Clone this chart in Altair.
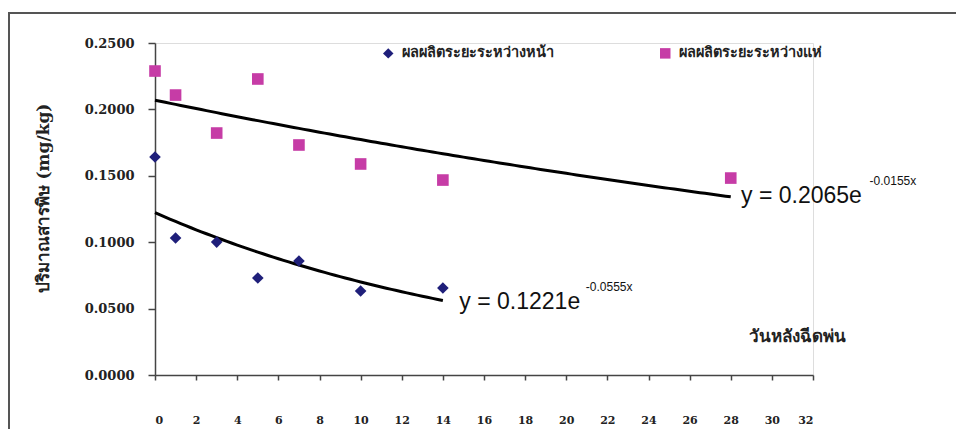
import altair as alt
import pandas as pd

series_names = ["ผลผลิตระยะระหว่างหน้า", "ผลผลิตระยะระหว่างแห่"]
series_colors = ["#1F1F7A", "#C63CA6"]
series_shapes = ["diamond", "square"]

blue_days = [0, 1, 3, 5, 7, 10, 14]
blue_vals = [0.1642, 0.1032, 0.1001, 0.0730, 0.0858, 0.0633, 0.0655]

pink_days = [0, 1, 3, 5, 7, 10, 14, 28]
pink_vals = [0.2289, 0.2108, 0.1822, 0.2229, 0.1732, 0.1589, 0.1468, 0.1483]

eq_main = ["y = 0.2065e", "y = 0.1221e"]
eq_sup = ["-0.0155x", "-0.0555x"]
eq_main_x = [28.5, 14.8]
eq_main_y = [0.1350, 0.0548]
eq_sup_x = [34.75, 20.95]
eq_sup_y = [0.1460, 0.0660]

x_ticks = list(range(0, 33, 2))
y_ticks = [0.0, 0.05, 0.10, 0.15, 0.20, 0.25]

rows = []
for d, v in zip(blue_days, blue_vals):
    rows.append({"day": d, "val": v, "series": series_names[0]})
for d, v in zip(pink_days, pink_vals):
    rows.append({"day": d, "val": v, "series": series_names[1]})
df = pd.DataFrame(rows)

ann = pd.DataFrame({
    "main": eq_main, "sup": eq_sup,
    "mx": eq_main_x, "my": eq_main_y,
    "sx": eq_sup_x, "sy": eq_sup_y,
})

W, H = 658, 332
SERIF = "DejaVu Serif"

xscale = alt.Scale(domain=[0, 32], nice=False, zero=False)
yscale = alt.Scale(domain=[0, 0.25], nice=False)

xaxis = alt.Axis(
    values=x_ticks, grid=False, tickSize=5, tickColor="#444", domainColor="#444",
    domainWidth=1.5, tickWidth=1.5, labelFont=SERIF, labelFontWeight="bold",
    labelFontSize=11, labelColor="#222", labelPadding=34,
    title="วันหลังฉีดพ่น", titleFont=SERIF, titleFontWeight="bold", titleFontSize=17,
    titleColor="#222", titleX=642, titleY=-39, titleAlign="center", titleBaseline="middle",
)
yaxis = alt.Axis(
    values=y_ticks, format=".4f", grid=False, tickSize=7, tickColor="#444",
    domainColor="#444", domainWidth=1.5, tickWidth=1.5, labelFont=SERIF,
    labelFontWeight="bold", labelFontSize=13, labelColor="#222", labelPadding=14,
    title="ปริมาณสารพิษ (mg/kg)", titleFont=SERIF, titleFontWeight="bold",
    titleFontSize=17, titleColor="#222", titleX=-112, titleY=155,
    titleAlign="center", titleBaseline="middle", titleAngle=270,
)

base = alt.Chart(df)

points = base.mark_point(filled=True, size=135, opacity=1).encode(
    x=alt.X("day:Q", scale=xscale, axis=xaxis),
    y=alt.Y("val:Q", scale=yscale, axis=yaxis),
    color=alt.Color("series:N", scale=alt.Scale(domain=series_names, range=series_colors),
                    legend=alt.Legend(
                        title=None, orient="none", legendX=226, legendY=3,
                        direction="horizontal", columnPadding=104,
                        labelFont=SERIF, labelFontWeight="bold", labelFontSize=14.5,
                        labelColor="#222", symbolSize=110, labelLimit=300,
                        symbolStrokeWidth=0, labelOffset=6)),
    shape=alt.Shape("series:N", scale=alt.Scale(domain=series_names, range=series_shapes)),
)

# exponential trendline: least squares on log(value), fitted by Vega's regression transform
trend = base.transform_calculate(
    lv="log(datum.val)"
).transform_joinaggregate(
    xmax="max(day)", groupby=["series"]
).transform_regression(
    "day", "lv", method="linear", groupby=["series", "xmax"], params=True
).transform_calculate(
    grp="datum.keys[0]",
    xs="sequence(0, datum.keys[1] + 0.01, 0.25)",
).transform_flatten(
    ["xs"]
).transform_calculate(
    fit="exp(datum.coef[0] + datum.coef[1] * datum.xs)"
).mark_line(color="black", strokeWidth=3).encode(
    x=alt.X("xs:Q", scale=xscale),
    y=alt.Y("fit:Q", scale=yscale),
    detail="grp:N",
)

annb = alt.Chart(ann)
main_txt = annb.mark_text(align="left", baseline="middle", font="Liberation Sans",
                          fontSize=23, color="#111").encode(
    x=alt.X("mx:Q", scale=xscale), y=alt.Y("my:Q", scale=yscale), text="main:N")
sup_txt = annb.mark_text(align="left", baseline="middle", font="Liberation Sans",
                         fontSize=12, color="#111").encode(
    x=alt.X("sx:Q", scale=xscale), y=alt.Y("sy:Q", scale=yscale), text="sup:N")

frame = alt.Chart(pd.DataFrame({"k": [0]})).mark_rect(
    fill=None, stroke="#555", strokeWidth=2
).encode(x=alt.value(-146), x2=alt.value(830), y=alt.value(-30), y2=alt.value(420))

chart = alt.layer(frame, trend, points, main_txt, sup_txt).properties(
    width=W, height=H, autosize=alt.AutoSizeParams(type="none"),
    padding={"left": 147, "top": 35, "right": 143, "bottom": 54},
).configure_view(stroke=None).configure(background="white")

chart.save("out.html", embed_options={"renderer": "svg", "actions": False})
